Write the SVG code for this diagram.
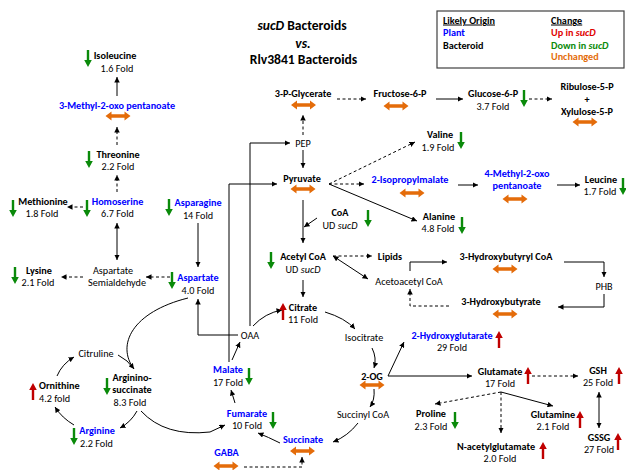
<svg xmlns="http://www.w3.org/2000/svg" xmlns:xlink="http://www.w3.org/1999/xlink" width="626" height="470" viewBox="0 0 626 470">
<style>
text{font-family:Carlito,Lato,"Liberation Sans",sans-serif;font-size:10.2px;fill:#000;text-anchor:middle}
.b{font-weight:bold}
.bl{fill:#0000ff}
.s{text-anchor:start}
.i{font-style:italic}
.ttl{font-size:13.6px;font-weight:bold}
.ln{fill:none;stroke:#000;stroke-width:1;marker-end:url(#a)}
.dd{stroke-dasharray:3,2.5}
.two{marker-start:url(#a)}
.nm{marker-end:none}
</style>
<defs>
<marker id="a" viewBox="0 0 10 10" refX="10" refY="5" markerWidth="5.5" markerHeight="5.5" markerUnits="userSpaceOnUse" orient="auto-start-reverse"><path d="M0,0 L10,5 L0,10 z" fill="#000"/></marker>
<path id="dn" d="M-1.2,0 h2.4 v10 h2.6 l-3.8,7 l-3.8,-7 h2.6 z" fill="#0a8a0a"/>
<path id="up" d="M-1.2,17 h2.4 v-10 h2.6 l-3.8,-7 l-3.8,7 h2.6 z" fill="#c00000"/>
<path id="or" d="M-12.5,0 l6,-4.5 v2.8 h13 v-2.8 l6,4.5 l-6,4.5 v-2.8 h-13 v2.8 z" fill="#e46c0a"/>
</defs>
<rect width="626" height="470" fill="#fff"/>

<g id="title">
<text class="ttl" x="302" y="30"><tspan class="i">sucD</tspan> Bacteroids</text>
<text class="ttl i" x="303" y="48">vs.</text>
<text class="ttl" x="303.5" y="64">Rlv3841 Bacteroids</text>
</g>

<g id="legend">
<rect x="437" y="11" width="187" height="57" fill="none" stroke="#404040" stroke-width="1.2"/>
<text class="b s" x="443" y="23.5" text-decoration="underline">Likely Origin</text>
<text class="b s bl" x="443" y="36">Plant</text>
<text class="b s" x="443" y="48.5">Bacteroid</text>
<text class="b s" x="551" y="23.5" text-decoration="underline">Change</text>
<text class="b s" x="551" y="36" style="fill:#e00000">Up in <tspan class="i">sucD</tspan></text>
<text class="b s" x="551" y="48.5" style="fill:#0a8a0a">Down in <tspan class="i">sucD</tspan></text>
<text class="b s" x="551" y="60" style="fill:#e46c0a">Unchanged</text>
</g>

<g id="connectors">
<path class="ln" d="M117,96 L117,77"/>
<path class="ln dd" d="M117,145 L117,127"/>
<path class="ln dd" d="M117,192 L117,175"/>
<path class="ln dd" d="M83,207 L67,207"/>
<path class="ln two" d="M117,223 L117,260"/>
<path class="ln dd" d="M83,277 L61,277"/>
<path class="ln dd" d="M170,277 L146,277"/>
<path class="ln" d="M198,223 L198,267"/>
<path class="ln" d="M238,335 L198,335 L198,299"/>
<path class="ln" d="M229,362 L229,184 L277,184"/>
<path class="ln" d="M250,326 L250,143 L290,143"/>
<path class="ln dd" d="M303,135 L303,115"/>
<path class="ln" d="M303,150 L303,168"/>
<path class="ln dd" d="M337,99 L366,99"/>
<path class="ln" d="M436,99 L463,99"/>
<path class="ln dd" d="M529,99 L552,99"/>
<path class="ln dd" d="M329,184 L415,142"/>
<path class="ln dd" d="M329,184 L364,184"/>
<path class="ln" d="M329,184 L417,221"/>
<path class="ln" d="M458,185 L478,185"/>
<path class="ln" d="M557,185 L580,185"/>
<path class="ln" d="M303,200 L303,243"/>
<path class="ln" d="M317,218 L304,227"/>
<path class="ln dd" d="M333,256 L372,256"/>
<path class="ln two" d="M333,256 L368,279"/>
<path class="ln" d="M410,271 L410,262 L447,262"/>
<path class="ln" d="M564,262 L604,262 L604,277"/>
<path class="ln" d="M604,294 L604,307 L558,307"/>
<path class="ln dd" d="M449,306 L410,306 L410,289"/>
<path class="ln" d="M303,280 L303,297"/>
<path class="ln" d="M325,312 Q345,318 355,329"/>
<path class="ln" d="M372,348 Q377,358 374,368"/>
<path class="ln" d="M374,389 Q375,400 370,407"/>
<path class="ln" d="M358,423 Q348,436 333,442"/>
<path class="ln" d="M280,443 Q268,437 258,433"/>
<path class="ln" d="M235,403 L231,390"/>
<path class="ln" d="M232,360 L240,342"/>
<path class="ln" d="M253,326 Q265,313 282,310"/>
<path class="ln dd" d="M244,467 L302,467 L302,457"/>
<path class="ln" d="M388,376 L404,342"/>
<path class="ln" d="M388,376 L472,376"/>
<path class="ln dd" d="M532,376 L578,376"/>
<path class="ln two" d="M599,392 L599,428"/>
<path class="ln dd" d="M501,392 L435,404"/>
<path class="ln dd" d="M501,392 L501,433"/>
<path class="ln" d="M501,392 L553,406"/>
<path class="ln" d="M188,298 C132,312 116,345 134,369"/>
<path class="ln nm" d="M118,355 Q128,360 134,369"/>
<path class="ln" d="M57,376 Q62,364 74,357"/>
<path class="ln" d="M137,411 Q131,422 120,428"/>
<path class="ln" d="M74,425 Q62,418 55,407"/>
<path class="ln" d="M141,411 Q165,437 210,432 L225,425"/>
</g>

<g id="isoleucine"><text class="b" x="115" y="58.5">Isoleucine</text><text x="117" y="71.5">1.6 Fold</text><use href="#dn" x="88" y="50"/></g>
<g id="methyl3oxopentanoate"><text class="b bl" x="117" y="108.5">3-Methyl-2-oxo pentanoate</text><use href="#or" x="118" y="116"/></g>
<g id="threonine"><text class="b" x="118" y="157.5">Threonine</text><text x="118" y="169.5">2.2 Fold</text><use href="#dn" x="89" y="151"/></g>
<g id="homoserine"><text class="b bl" x="117.5" y="204.5">Homoserine</text><text x="117.5" y="216.5">6.7 Fold</text><use href="#dn" x="87" y="200"/></g>
<g id="methionine"><text class="b" x="43" y="204.5">Methionine</text><text x="42" y="216.5">1.8 Fold</text><use href="#dn" x="13" y="200"/></g>
<g id="aspsemialdehyde"><text x="113" y="273.5">Aspartate</text><text x="117" y="285.5">Semialdehyde</text></g>
<g id="lysine"><text class="b" x="39" y="273.5">Lysine</text><text x="38" y="285.5">2.1 Fold</text><use href="#dn" x="15" y="267"/></g>
<g id="asparagine"><text class="b bl" x="198" y="205.5">Asparagine</text><text x="198" y="218.5">14 Fold</text><use href="#dn" x="169" y="199"/></g>
<g id="aspartate"><text class="b bl" x="198" y="280.5">Aspartate</text><text x="198" y="293.5">4.0 Fold</text><use href="#dn" x="172" y="272"/></g>
<g id="pep"><text x="303" y="146.5">PEP</text></g>
<g id="pglycerate"><text class="b" x="303" y="96.5">3-P-Glycerate</text><use href="#or" x="303.5" y="105"/></g>
<g id="f6p"><text class="b" x="400" y="96.5">Fructose-6-P</text><use href="#or" x="396" y="106"/></g>
<g id="g6p"><text class="b" x="493" y="96.5">Glucose-6-P</text><text x="493" y="109.5">3.7 Fold</text><use href="#dn" x="524" y="90"/></g>
<g id="r5p"><text class="b" x="587" y="89.5">Ribulose-5-P</text><text class="b" x="587" y="102.5">+</text><text class="b" x="587" y="114.5">Xylulose-5-P</text><use href="#or" x="585" y="122"/></g>
<g id="pyruvate"><text class="b" x="302" y="181.5">Pyruvate</text><use href="#or" x="303" y="189"/></g>
<g id="valine"><text class="b" x="440" y="137.5">Valine</text><text x="438" y="150.5">1.9 Fold</text><use href="#dn" x="461" y="132"/></g>
<g id="isopropylmalate"><text class="b bl" x="410" y="182.5">2-Isopropylmalate</text><use href="#or" x="412" y="193"/></g>
<g id="methyl4oxopentanoate"><text class="b bl" x="517" y="176.5">4-Methyl-2-oxo</text><text class="b bl" x="517" y="188.5">pentanoate</text><use href="#or" x="515" y="199"/></g>
<g id="leucine"><text class="b" x="601" y="182.5">Leucine</text><text x="600" y="194.5">1.7 Fold</text><use href="#dn" x="623" y="178"/></g>
<g id="alanine"><text class="b" x="439" y="219.5">Alanine</text><text x="438" y="231.5">4.8 Fold</text><use href="#dn" x="462" y="217"/></g>
<g id="coa"><text class="b" x="340" y="215.5">CoA</text><text x="340" y="228.5">UD <tspan class="i">sucD</tspan></text><use href="#dn" x="368" y="210"/></g>
<g id="acetylcoa"><text class="b" x="303" y="259.5">Acetyl CoA</text><text x="303" y="272.5">UD <tspan class="i">sucD</tspan></text><use href="#dn" x="271" y="252"/></g>
<g id="lipids"><text class="b" x="390" y="259.5">Lipids</text></g>
<g id="acetoacetylcoa"><text x="409" y="284.5">Acetoacetyl CoA</text></g>
<g id="hydroxybutyrylcoa"><text class="b" x="506" y="259.5">3-Hydroxybutyryl CoA</text><use href="#or" x="505" y="269"/></g>
<g id="phb"><text x="604" y="289.5">PHB</text></g>
<g id="hydroxybutyrate"><text class="b" x="501" y="304.5">3-Hydroxybutyrate</text><use href="#or" x="505" y="314"/></g>
<g id="citrate"><text class="b" x="303" y="310.5">Citrate</text><text x="303" y="322.5">11 Fold</text><use href="#up" x="283" y="303"/></g>
<g id="oaa"><text x="250" y="338.5">OAA</text></g>
<g id="isocitrate"><text x="364" y="340.5">Isocitrate</text></g>
<g id="hydroxyglutarate"><text class="b bl" x="452" y="338.5">2-Hydroxyglutarate</text><text x="452" y="350.5">29 Fold</text><use href="#up" x="499" y="331"/></g>
<g id="og"><text class="b" x="372" y="380">2-OG</text><use href="#or" x="372" y="385"/></g>
<g id="glutamate"><text class="b" x="500" y="374.5">Glutamate</text><text x="500" y="386.5">17 Fold</text><use href="#up" x="528" y="367"/></g>
<g id="gsh"><text class="b" x="598" y="373.5">GSH</text><text x="598" y="385.5">25 Fold</text><use href="#up" x="619" y="367"/></g>
<g id="gssg"><text class="b" x="599" y="440.5">GSSG</text><text x="599" y="452.5">27 Fold</text><use href="#up" x="618" y="433"/></g>
<g id="proline"><text class="b" x="431" y="416.5">Proline</text><text x="431" y="429.5">2.3 Fold</text><use href="#dn" x="455" y="412"/></g>
<g id="glutamine"><text class="b" x="553" y="417.5">Glutamine</text><text x="553" y="429.5">2.1 Fold</text><use href="#up" x="580" y="411"/></g>
<g id="nacetylglutamate"><text class="b" x="496" y="449.5">N-acetylglutamate</text><text x="500" y="461.5">2.0 Fold</text><use href="#up" x="543" y="442"/></g>
<g id="succinylcoa"><text x="363" y="417.5">Succinyl CoA</text></g>
<g id="succinate"><text class="b bl" x="303" y="442.5">Succinate</text><use href="#or" x="302.5" y="451"/></g>
<g id="gaba"><text class="b bl" x="226.5" y="455.5">GABA</text><use href="#or" x="226" y="466"/></g>
<g id="fumarate"><text class="b bl" x="247" y="416.5">Fumarate</text><text x="247" y="428.5">10 Fold</text><use href="#dn" x="273" y="412"/></g>
<g id="malate"><text class="b bl" x="228" y="372.5">Malate</text><text x="228" y="385.5">17 Fold</text><use href="#dn" x="249" y="368"/></g>
<g id="argininosuccinate"><text class="b" x="132" y="380.5">Arginino-</text><text class="b" x="132" y="392.5">succinate</text><text x="130" y="405.5">8.3 Fold</text><use href="#dn" x="107" y="378"/></g>
<g id="citrulline"><text x="96" y="356.5">Citruline</text></g>
<g id="ornithine"><text class="b s" x="39" y="389">Ornithine</text><text class="s" x="39" y="401.5">4.2 fold</text><use href="#up" x="33" y="383"/></g>
<g id="arginine"><text class="b bl" x="97" y="434">Arginine</text><text x="96.5" y="446.5">2.2 Fold</text><use href="#dn" x="74" y="428"/></g>
</svg>
